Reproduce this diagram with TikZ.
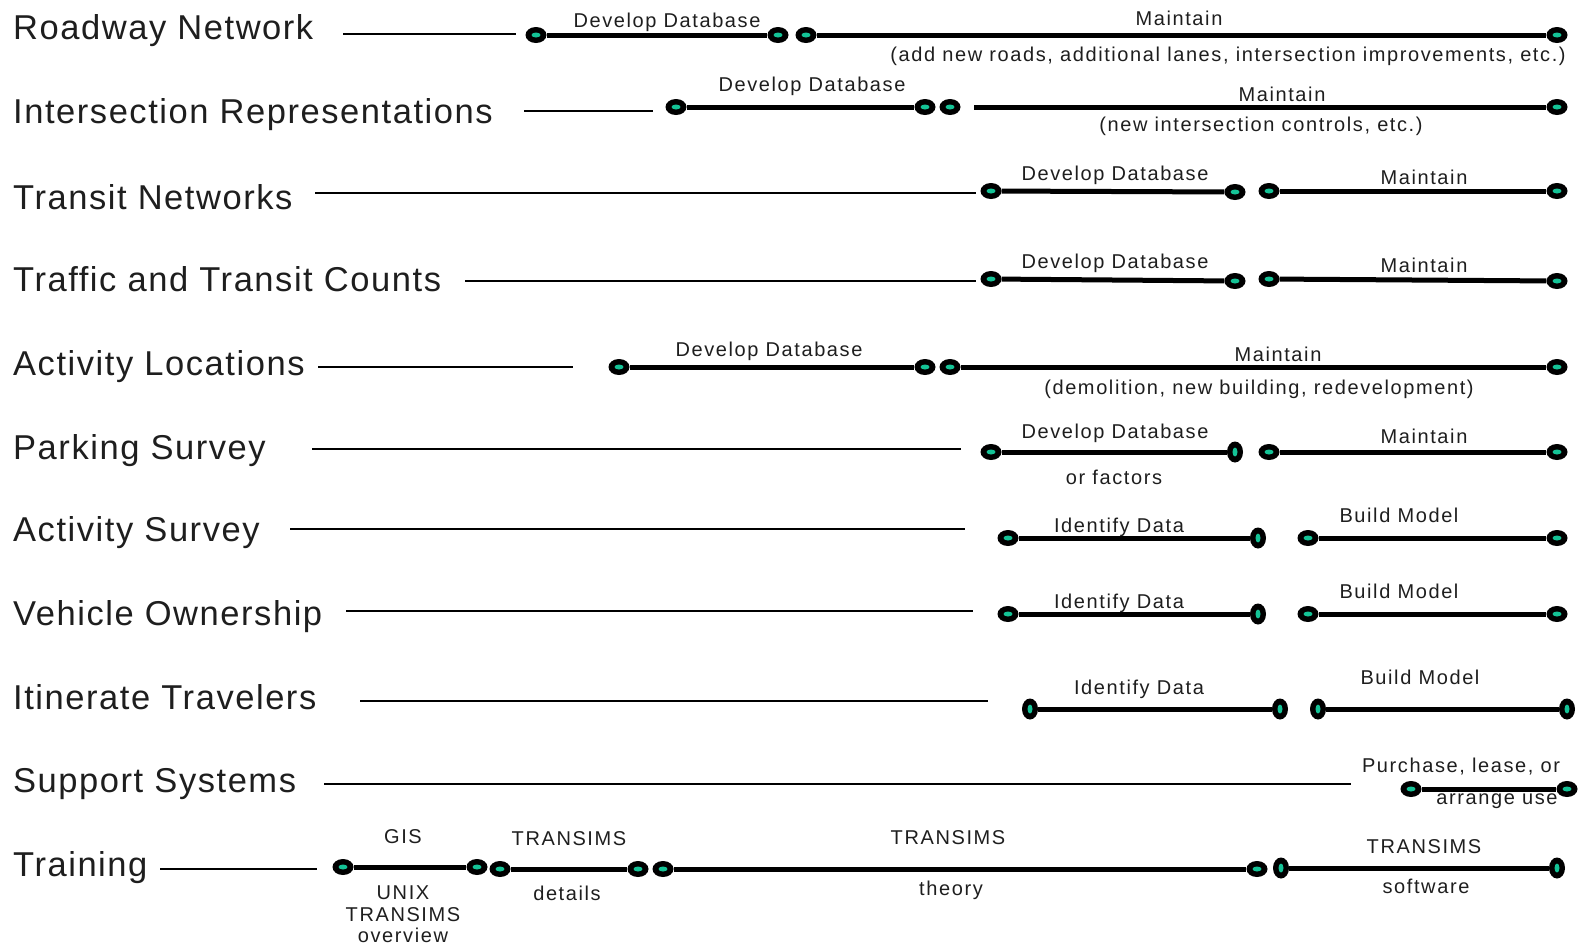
\documentclass[tikz,border=0pt]{standalone}
\usepackage{fontspec}
\setmainfont{Liberation Sans}
\newfontfamily\titlefont[LetterSpace=4.5]{Liberation Sans}
\newfontfamily\notefont[LetterSpace=8]{Liberation Sans}
\usetikzlibrary{shapes.geometric}
\definecolor{dotteal}{RGB}{20,195,150}
\definecolor{ink}{RGB}{30,30,30}
\tikzset{
	title/.style={anchor=base west, inner sep=0pt, text=ink, font=\titlefont\fontsize{34.5}{40}\selectfont},
	note/.style={anchor=base, inner sep=0pt, text=ink, font=\notefont\fontsize{20}{24}\selectfont},
	stopdot/.style={ellipse, fill=black, inner sep=0pt, minimum width=21pt, minimum height=16pt,
		path picture={\fill[dotteal] (path picture bounding box.center) ellipse (4.5pt and 2.5pt);}},
	stopdotv/.style={ellipse, fill=black, inner sep=0pt, minimum width=16pt, minimum height=21pt,
		path picture={\fill[dotteal] (path picture bounding box.center) ellipse (2.5pt and 4.5pt);}},
	bar/.style={line width=5pt},
	lead/.style={line width=1.8pt}
}
\begin{document}
\begin{tikzpicture}[x=1pt, y=-1pt]
		\useasboundingbox (0,0) rectangle (1590,946);
		% Roadway Network
		\node[title] (road) at (13,39) {Roadway Network};
		\coordinate (road-a) at (343,34);
		\coordinate (road-b) at (516,34);
		\node[stopdot] (road1) at (536,35) {};
		\node[stopdot] (road2) at (778,35) {};
		\node[stopdot] (road3) at (806,35) {};
		\node[stopdot] (road4) at (1557,35) {};
		\draw[lead] (road-a) -- (road-b);
		\draw[bar] (road1) -- (road2);
		\draw[bar] (road3) -- (road4);
		\node[note] (road-dd) at (667,27) {Develop Database};
		\node[note] (road-mt) at (1179,25) {Maintain};
		\node[note] (road-nt) at (1228,61) {(add new roads, additional lanes, intersection improvements, etc.)};
		% Intersection Representations
		\node[title] (inter) at (13,123) {Intersection Representations};
		\coordinate (inter-a) at (524,111);
		\coordinate (inter-b) at (653,111);
		\coordinate (inter-c) at (974,107);
		\node[stopdot] (inter1) at (676,107) {};
		\node[stopdot] (inter2) at (925,107) {};
		\node[stopdot] (inter3) at (950,107) {};
		\node[stopdot] (inter4) at (1557,107) {};
		\draw[lead] (inter-a) -- (inter-b);
		\draw[bar] (inter1) -- (inter2);
		\draw[bar] (inter-c) -- (inter4);
		\node[note] (inter-dd) at (812,91) {Develop Database};
		\node[note] (inter-mt) at (1282,101) {Maintain};
		\node[note] (inter-nt) at (1261,131) {(new intersection controls, etc.)};
		% Transit Networks
		\node[title] (transit) at (13,209) {Transit Networks};
		\coordinate (transit-a) at (315,193);
		\coordinate (transit-b) at (976,193);
		\node[stopdot] (transit1) at (991,191) {};
		\node[stopdot] (transit2) at (1235,192) {};
		\node[stopdot] (transit3) at (1269,191) {};
		\node[stopdot] (transit4) at (1557,191) {};
		\draw[lead] (transit-a) -- (transit-b);
		\draw[bar] (transit1) -- (transit2);
		\draw[bar] (transit3) -- (transit4);
		\node[note] (transit-dd) at (1115,180) {Develop Database};
		\node[note] (transit-mt) at (1424,184) {Maintain};
		% Traffic and Transit Counts
		\node[title] (counts) at (13,291) {Traffic and Transit Counts};
		\coordinate (counts-a) at (465,281);
		\coordinate (counts-b) at (976,281);
		\node[stopdot] (counts1) at (991,279) {};
		\node[stopdot] (counts2) at (1235,281) {};
		\node[stopdot] (counts3) at (1269,279) {};
		\node[stopdot] (counts4) at (1557,281) {};
		\draw[lead] (counts-a) -- (counts-b);
		\draw[bar] (counts1) -- (counts2);
		\draw[bar] (counts3) -- (counts4);
		\node[note] (counts-dd) at (1115,268) {Develop Database};
		\node[note] (counts-mt) at (1424,272) {Maintain};
		% Activity Locations
		\node[title] (locs) at (13,375) {Activity Locations};
		\coordinate (locs-a) at (318,367);
		\coordinate (locs-b) at (573,367);
		\node[stopdot] (locs1) at (619,367) {};
		\node[stopdot] (locs2) at (925,367) {};
		\node[stopdot] (locs3) at (950,367) {};
		\node[stopdot] (locs4) at (1557,367) {};
		\draw[lead] (locs-a) -- (locs-b);
		\draw[bar] (locs1) -- (locs2);
		\draw[bar] (locs3) -- (locs4);
		\node[note] (locs-dd) at (769,356) {Develop Database};
		\node[note] (locs-mt) at (1278,361) {Maintain};
		\node[note] (locs-nt) at (1259,394) {(demolition, new building, redevelopment)};
		% Parking Survey
		\node[title] (park) at (13,459) {Parking Survey};
		\coordinate (park-a) at (312,449);
		\coordinate (park-b) at (961,449);
		\node[stopdot] (park1) at (991,452) {};
		\node[stopdotv] (park2) at (1235,452) {};
		\node[stopdot] (park3) at (1269,452) {};
		\node[stopdot] (park4) at (1557,452) {};
		\draw[lead] (park-a) -- (park-b);
		\draw[bar] (park1) -- (park2);
		\draw[bar] (park3) -- (park4);
		\node[note] (park-dd) at (1115,438) {Develop Database};
		\node[note] (park-mt) at (1424,443) {Maintain};
		\node[note] (park-nt) at (1114,484) {or factors};
		% Activity Survey
		\node[title] (asurv) at (13,541) {Activity Survey};
		\coordinate (asurv-a) at (290,529);
		\coordinate (asurv-b) at (965,529);
		\node[stopdot] (asurv1) at (1008,538) {};
		\node[stopdotv] (asurv2) at (1258,538) {};
		\node[stopdot] (asurv3) at (1308,538) {};
		\node[stopdot] (asurv4) at (1557,538) {};
		\draw[lead] (asurv-a) -- (asurv-b);
		\draw[bar] (asurv1) -- (asurv2);
		\draw[bar] (asurv3) -- (asurv4);
		\node[note] (asurv-id) at (1119,532) {Identify Data};
		\node[note] (asurv-bm) at (1399,522) {Build Model};
		% Vehicle Ownership
		\node[title] (veh) at (13,625) {Vehicle Ownership};
		\coordinate (veh-a) at (346,611);
		\coordinate (veh-b) at (973,611);
		\node[stopdot] (veh1) at (1008,614) {};
		\node[stopdotv] (veh2) at (1258,614) {};
		\node[stopdot] (veh3) at (1308,614) {};
		\node[stopdot] (veh4) at (1557,614) {};
		\draw[lead] (veh-a) -- (veh-b);
		\draw[bar] (veh1) -- (veh2);
		\draw[bar] (veh3) -- (veh4);
		\node[note] (veh-id) at (1119,608) {Identify Data};
		\node[note] (veh-bm) at (1399,598) {Build Model};
		% Itinerate Travelers
		\node[title] (itin) at (13,709) {Itinerate Travelers};
		\coordinate (itin-a) at (360,701);
		\coordinate (itin-b) at (988,701);
		\node[stopdotv] (itin1) at (1030,709) {};
		\node[stopdotv] (itin2) at (1280,709) {};
		\node[stopdotv] (itin3) at (1318,709) {};
		\node[stopdotv] (itin4) at (1567,709) {};
		\draw[lead] (itin-a) -- (itin-b);
		\draw[bar] (itin1) -- (itin2);
		\draw[bar] (itin3) -- (itin4);
		\node[note] (itin-id) at (1139,694) {Identify Data};
		\node[note] (itin-bm) at (1420,684) {Build Model};
		% Support Systems
		\node[title] (supp) at (13,792) {Support Systems};
		\coordinate (supp-a) at (324,784);
		\coordinate (supp-b) at (1351,784);
		\node[stopdot] (supp1) at (1411,789) {};
		\node[stopdot] (supp2) at (1567,789) {};
		\draw[lead] (supp-a) -- (supp-b);
		\draw[bar] (supp1) -- (supp2);
		\node[note] (supp-pl) at (1461,772) {Purchase, lease, or};
		\node[note] (supp-au) at (1497,804) {arrange use};
		% Training
		\node[title] (train) at (13,876) {Training};
		\coordinate (train-a) at (160,869);
		\coordinate (train-b) at (317,869);
		\node[stopdot] (train1) at (343,867) {};
		\node[stopdot] (train2) at (477,867) {};
		\node[stopdot] (train3) at (500,869) {};
		\node[stopdot] (train4) at (638,869) {};
		\node[stopdot] (train5) at (663,869) {};
		\node[stopdot] (train6) at (1257,869) {};
		\node[stopdotv] (train7) at (1281,868) {};
		\node[stopdotv] (train8) at (1557,868) {};
		\draw[lead] (train-a) -- (train-b);
		\draw[bar] (train1) -- (train2);
		\draw[bar] (train3) -- (train4);
		\draw[bar] (train5) -- (train6);
		\draw[bar] (train7) -- (train8);
		\node[note] (train-gis) at (403,843) {GIS};
		\node[note] (train-unix) at (403,899) {UNIX};
		\node[note] (train-tov) at (403,921) {TRANSIMS};
		\node[note] (train-ov) at (403,942) {overview};
		\node[note] (train-tdt) at (569,845) {TRANSIMS};
		\node[note] (train-dt) at (567,900) {details};
		\node[note] (train-tth) at (948,844) {TRANSIMS};
		\node[note] (train-th) at (951,895) {theory};
		\node[note] (train-tsw) at (1424,853) {TRANSIMS};
		\node[note] (train-sw) at (1426,893) {software};
\end{tikzpicture}
\end{document}
